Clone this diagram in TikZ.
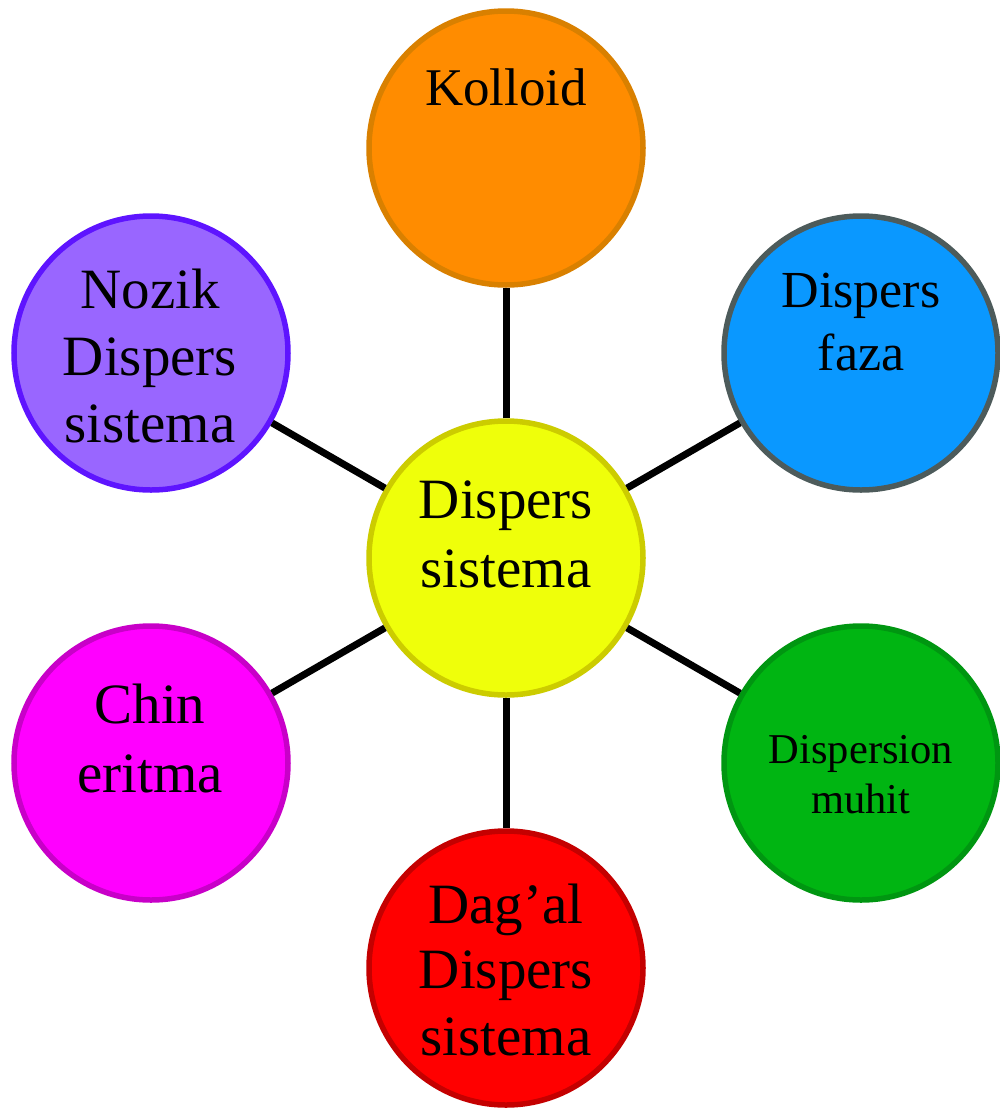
\documentclass[tikz,border=0pt]{standalone}
\usepackage{fontspec}
\setmainfont{Liberation Serif}
\definecolor{orfill}{HTML}{FF8C00}
\definecolor{ordraw}{HTML}{D98000}
\definecolor{yefill}{HTML}{EFFF0A}
\definecolor{yedraw}{HTML}{CCCC00}
\definecolor{blfill}{HTML}{0A98FF}
\definecolor{bldraw}{HTML}{4D5B5B}
\definecolor{grfill}{HTML}{00B512}
\definecolor{grdraw}{HTML}{009611}
\definecolor{rdfill}{HTML}{FF0000}
\definecolor{rddraw}{HTML}{C40000}
\definecolor{mgfill}{HTML}{FF00FF}
\definecolor{mgdraw}{HTML}{C800C8}
\definecolor{pufill}{HTML}{9966FF}
\definecolor{pudraw}{HTML}{5E14FF}
\begin{document}
\begin{tikzpicture}[x=1pt,y=-1pt,
  bubble/.style={circle,minimum size=274pt,inner sep=0pt,line width=5.5pt},
  txt/.style={anchor=base,inner sep=0pt},
  spoke/.style={line width=7pt,black}]
\useasboundingbox (0,0) rectangle (1000,1109);
% bubbles
\node[bubble,fill=yefill,draw=yedraw] (c) at (506,558) {};
\node[bubble,fill=orfill,draw=ordraw] (k) at (506,148) {};
\node[bubble,fill=blfill,draw=bldraw] (f) at (861,353) {};
\node[bubble,fill=grfill,draw=grdraw] (m) at (861,763) {};
\node[bubble,fill=rdfill,draw=rddraw] (d) at (506,968) {};
\node[bubble,fill=mgfill,draw=mgdraw] (e) at (151,763) {};
\node[bubble,fill=pufill,draw=pudraw] (n) at (151,353) {};
% spokes from the hub
\foreach \o in {k,f,m,d,e,n} \draw[spoke] (c) -- (\o);
% labels
\node[txt,font=\fontsize{57}{57}\selectfont] (c1) at (506,518) {Dispers};
\node[txt,font=\fontsize{57}{57}\selectfont] (c2) at (506,587) {sistema};
\node[txt,font=\fontsize{53}{53}\selectfont] (k1) at (506,105) {Kolloid};
\node[txt,font=\fontsize{52}{52}\selectfont] (f1) at (861,307) {Dispers};
\node[txt,font=\fontsize{52}{52}\selectfont] (f2) at (861,370) {faza};
\node[txt,font=\fontsize{42.5}{42.5}\selectfont] (m1) at (861,763) {Dispersion};
\node[txt,font=\fontsize{42.5}{42.5}\selectfont] (m2) at (861,813) {muhit};
\node[txt,font=\fontsize{57}{57}\selectfont] (d1) at (506,923) {Dag’al};
\node[txt,font=\fontsize{57}{57}\selectfont] (d2) at (506,988) {Dispers};
\node[txt,font=\fontsize{57}{57}\selectfont] (d3) at (506,1055) {sistema};
\node[txt,font=\fontsize{57}{57}\selectfont] (e1) at (150,723) {Chin};
\node[txt,font=\fontsize{57}{57}\selectfont] (e2) at (150,792) {eritma};
\node[txt,font=\fontsize{57}{57}\selectfont] (n1) at (150,308) {Nozik};
\node[txt,font=\fontsize{57}{57}\selectfont] (n2) at (150,375) {Dispers};
\node[txt,font=\fontsize{57}{57}\selectfont] (n3) at (150,442) {sistema};
\end{tikzpicture}
\end{document}
